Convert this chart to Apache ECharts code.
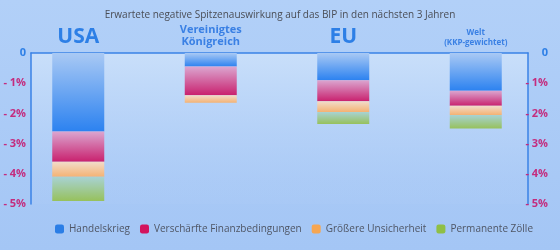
<!DOCTYPE html>
<html>
<head>
<meta charset="utf-8">
<script src="https://cdn.jsdelivr.net/npm/echarts@6/dist/echarts.min.js"></script>
<style>
html,body{margin:0;padding:0;background:#a9caf6;}
#c{width:560px;height:250px;}
</style>
</head>
<body>
<div id="c"></div>
<script>
// ---- data ----
const categories = ['USA', 'Vereinigtes Königreich', 'EU', 'Welt (KKP-gewichtet)'];
const categoryLines = [['USA'], ['Vereinigtes', 'Königreich'], ['EU'], ['Welt', '(KKP-gewichtet)']];
const seriesNames = ['Handelskrieg', 'Verschärfte Finanzbedingungen', 'Größere Unsicherheit', 'Permanente Zölle'];
const tradeWar    = [-2.6, -0.45, -0.9, -1.25];
const financial   = [-1.0, -0.95, -0.7, -0.5];
const uncertainty = [-0.5, -0.25, -0.35, -0.3];
const tariffs     = [-0.8, 0, -0.4, -0.45];
const yTickLabels = { '0': '0', '-1': '- 1%', '-2': '- 2%', '-3': '- 3%', '-4': '- 4%', '-5': '- 5%' };
const title = 'Erwartete negative Spitzenauswirkung auf das BIP in den nächsten 3 Jahren';

// ---- styles ----
const legendColors = ['#2b7ee6', '#d3145e', '#f6a652', '#8fbf45'];
const grads = [
  ['#a9c9f4', '#2c82f0'],
  ['#dba6d0', '#c9216e'],
  ['#f1dccb', '#f4b273'],
  ['#a8d2d4', '#97c15c']
];
function grad(c) {
  return new echarts.graphic.LinearGradient(0, 0, 0, 1, [
    { offset: 0, color: c[0] }, { offset: 1, color: c[1] }
  ]);
}
const font = "'Open Sans', 'Noto Sans', sans-serif";
const values = [tradeWar, financial, uncertainty, tariffs];

const chart = echarts.init(document.getElementById('c'), null, { renderer: 'canvas' });
const option = {
  backgroundColor: new echarts.graphic.LinearGradient(0, 0, 0, 1, [
    { offset: 0, color: '#b2d0f8' }, { offset: 1, color: '#a4c6f5' }
  ]),
  textStyle: { fontFamily: font },
  title: {
    text: title, left: 'center', top: 5,
    textStyle: { fontSize: 10, fontWeight: 'normal', color: '#4a4d55', fontFamily: font }
  },
  legend: {
    bottom: 11, left: 50, itemWidth: 9, itemHeight: 9, itemGap: 10,
    icon: 'roundRect',
    textStyle: { fontSize: 10, color: '#4f5665', fontFamily: font },
    data: seriesNames.map((n, i) => ({ name: n, itemStyle: { color: legendColors[i] } }))
  },
  grid: [
    { left: 12, right: 18, top: 53, bottom: 46 },
    { left: 31, right: 32, top: 53, bottom: 46, show: true, borderWidth: 0,
      backgroundColor: new echarts.graphic.LinearGradient(0, 0, 0, 1, [
        { offset: 0, color: '#c9dffa' }, { offset: 1, color: 'rgba(175,205,247,0.2)' }
      ]) }
  ],
  xAxis: [
    { type: 'category', gridIndex: 0, position: 'top', data: categories,
      axisLine: { show: false }, axisTick: { show: false },
      axisLabel: {
        margin: 5, interval: 0,
        formatter: (v, i) => {
          const st = i === 0 || i === 2 ? 'big' : (i === 1 ? 'mid' : 'small');
          return categoryLines[i].map(l => '{' + st + '|' + l + '}').join('\n');
        },
        rich: {
          big: { fontSize: 21, fontWeight: 'bold', color: '#2d7fe6', fontFamily: font, lineHeight: 22 },
          mid: { fontSize: 11, fontWeight: 'bold', color: '#3a80e4', fontFamily: font, lineHeight: 12 },
          small: { fontSize: 8, fontWeight: 'bold', color: '#3a80e4', fontFamily: font, lineHeight: 10 }
        }
      }
    },
    { type: 'category', gridIndex: 1, position: 'top', data: categories,
      axisLine: { show: true, lineStyle: { color: '#3a82e6', width: 1.5 } },
      axisTick: { show: false }, axisLabel: { show: false } }
  ],
  yAxis: [
    { type: 'value', gridIndex: 0, min: -5, max: 0, interval: 1, show: false },
    { type: 'value', gridIndex: 1, position: 'left', min: -5, max: 0, interval: 1,
      splitLine: { show: false },
      axisLine: { show: true, lineStyle: { color: '#3a82e6', width: 1.5 } },
      axisTick: { show: false },
      axisLabel: {
        margin: 5, fontSize: 11, fontWeight: 'bold', fontFamily: font,
        formatter: v => yTickLabels[String(v)],
        color: v => (Number(v) === 0 ? '#2d7fe6' : '#c42c7e')
      }
    },
    { type: 'value', gridIndex: 1, position: 'right', min: -5, max: 0, interval: 1,
      splitLine: { show: false },
      axisLine: { show: true, lineStyle: { color: '#3a82e6', width: 1.5 } },
      axisTick: { show: false },
      axisLabel: {
        margin: 20, align: 'right', fontSize: 11, fontWeight: 'bold', fontFamily: font,
        formatter: v => yTickLabels[String(v)],
        color: v => (Number(v) === 0 ? '#2d7fe6' : '#c42c7e')
      }
    }
  ],
  series: seriesNames.map((n, i) => ({
    name: n, type: 'bar', stack: 'total', xAxisIndex: 0, yAxisIndex: 0,
    barWidth: 52, data: values[i],
    itemStyle: { color: grad(grads[i]) },
    emphasis: { disabled: true }
  })),
  animation: false
};
chart.setOption(option);
</script>
</body>
</html>
